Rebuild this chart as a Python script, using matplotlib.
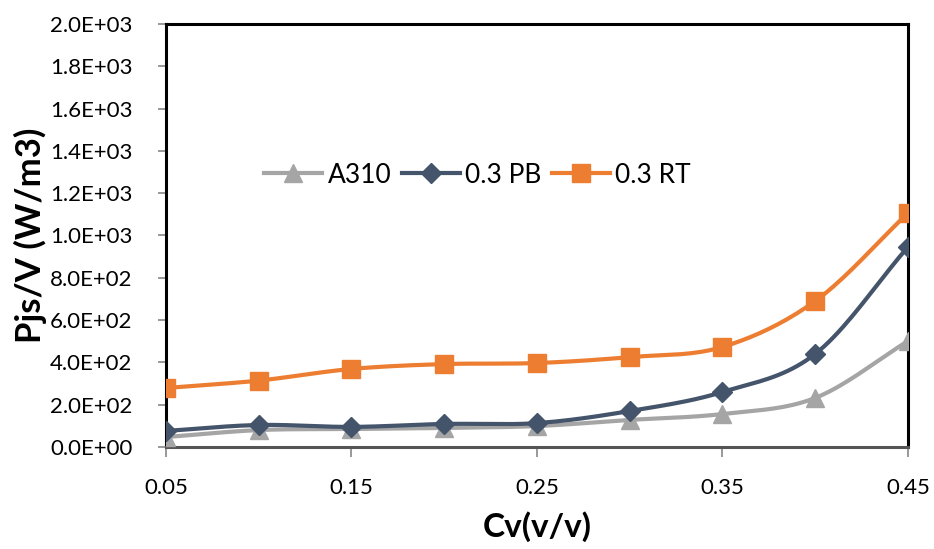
import numpy as np
import matplotlib
matplotlib.use("Agg")
import matplotlib.pyplot as plt
from matplotlib.ticker import FuncFormatter

plt.rcParams['font.family'] = ['Lato', 'DejaVu Sans']

# data
cv = [0.05, 0.10, 0.15, 0.20, 0.25, 0.30, 0.35, 0.40, 0.45]
a310 = [47, 80, 85, 90, 99, 128, 156, 232, 501]
pb = [76, 104, 95, 109, 113, 170, 260, 440, 946]
rt = [279, 314, 369, 392, 397, 425, 473, 690, 1106]


def smooth(x, y, n=20):
    # Catmull-Rom curve through the points, like Excel's smoothed line
    x = np.asarray(x, float)
    y = np.asarray(y, float)
    px = np.concatenate([[2 * x[0] - x[1]], x, [2 * x[-1] - x[-2]]])
    py = np.concatenate([[2 * y[0] - y[1]], y, [2 * y[-1] - y[-2]]])
    xs, ys = [], []
    t = np.linspace(0, 1, n, endpoint=False)
    for i in range(1, len(px) - 2):
        for p, out in ((px, xs), (py, ys)):
            p0, p1, p2, p3 = p[i - 1], p[i], p[i + 1], p[i + 2]
            out.extend(0.5 * (2 * p1 + (-p0 + p2) * t
                              + (2 * p0 - 5 * p1 + 4 * p2 - p3) * t ** 2
                              + (-p0 + 3 * p1 - 3 * p2 + p3) * t ** 3))
    xs.append(x[-1])
    ys.append(y[-1])
    return xs, ys


fig = plt.figure(figsize=(9.34, 5.49), dpi=100)
ax = fig.add_axes([0.1777, 0.1858, 0.7944, 0.7705])

series = [
    ("A310", a310, "#a5a5a5", "^", 13),
    ("0.3 PB", pb, "#44546a", "D", 10.5),
    ("0.3 RT", rt, "#ed7d31", "s", 13),
]
for label, vals, color, mk, ms in series:
    sx, sy = smooth(cv, vals)
    ax.plot(sx, sy, color=color, lw=3, zorder=2)
    ax.plot(cv, vals, linestyle="none", marker=mk, ms=ms, color=color, zorder=3)
    ax.plot([], [], color=color, lw=3, marker=mk, ms=ms, label=label)

ax.set_xlim(0.05, 0.45)
ax.set_ylim(0, 2000)
ax.set_xticks([0.05, 0.15, 0.25, 0.35, 0.45])
ax.set_xticklabels(["0.05", "0.15", "0.25", "0.35", "0.45"])
ax.set_yticks(np.arange(0, 2001, 200))
ax.yaxis.set_major_formatter(FuncFormatter(
    lambda v, p: "%.1fE+%02d" % (v / 10 ** int(np.floor(np.log10(v))), int(np.floor(np.log10(v)))) if v > 0 else "0.0E+00"))
ax.tick_params(axis="both", labelsize=16, color="#888888", length=6, width=1.2)
ax.tick_params(axis="x", pad=15, length=7)
ax.tick_params(axis="y", pad=18)

for s in ax.spines.values():
    s.set_color("black")
    s.set_linewidth(2.2)
ax.spines["bottom"].set_color("#555555")

ax.set_xlabel("Cv(v/v)", fontsize=24, fontweight="bold", labelpad=10)
ax.set_ylabel("Pjs/V (W/m3)", fontsize=25, fontweight="bold", labelpad=2)

ax.legend(loc="center", bbox_to_anchor=(0.42, 0.643), ncol=3, frameon=False,
          fontsize=19, handlelength=2.2, handletextpad=0.2, columnspacing=0.4)

fig.savefig("out.png", dpi=100)
